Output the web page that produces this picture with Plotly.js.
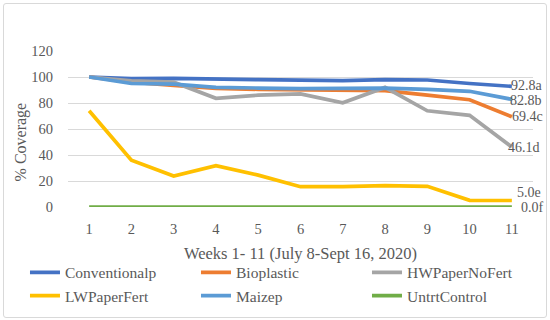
<!DOCTYPE html>
<html><head><meta charset="utf-8">
<script src="https://cdn.plot.ly/plotly-3.0.1.min.js"></script>
<style>
html,body{margin:0;padding:0;background:#fff;}
#wrap{position:relative;width:550px;height:320px;}
#chart{width:550px;height:320px;}
#chart svg text{font-family:'Liberation Serif', serif !important;}
#frame{position:absolute;left:3px;top:3px;width:542px;height:313px;border:1px solid #d9d9d9;border-radius:3px;pointer-events:none;}
</style>
</head><body>
<div id="wrap"><div id="chart"></div><div id="frame"></div></div>
<script>
var weeks = [1,2,3,4,5,6,7,8,9,10,11];
var seriesNames = ["Conventionalp","Bioplastic","HWPaperNoFert","LWPaperFert","Maizep","UntrtControl"];
var conventionalp = [100, 98.7, 99, 98.2, 98, 97.6, 97.2, 98, 97.7, 95, 92.8];
var bioplastic    = [100, 96, 93.5, 91.3, 90.5, 90, 89.7, 89.5, 86, 82.5, 69.4];
var hwPaperNoFert = [100, 97, 96, 83.6, 86, 87, 80.2, 92, 74, 70.5, 46.1];
var lwPaperFert   = [74, 36, 23.8, 31.8, 24.5, 15.6, 15.6, 16.4, 15.9, 5.1, 5.0];
var maizep        = [100, 95, 94.5, 92, 91.5, 91, 91.3, 91.5, 90.5, 89, 82.8];
var untrtControl  = [0, 0, 0, 0, 0, 0, 0, 0, 0, 0, 0];
var endLabels = ["92.8a","82.8b","69.4c","46.1d","5.0e","0.0f"];
var yTicks = [0,20,40,60,80,100,120];

var allValues = [conventionalp, bioplastic, hwPaperNoFert, lwPaperFert, maizep, untrtControl];
var colors = ["#4472C4","#ED7D31","#A5A5A5","#FFC000","#5B9BD5","#70AD47"];
var labelOrder = [0,4,1,2,3,5];
var labelXShift = [-3,-4,-2,-6,3,7];
var labelYShift = [1,-1,0,0,8,0];

var font = "Liberation Serif";
var txt = "#595959";

var traces = allValues.map(function(v,i){
  return {x: weeks, y: v, name: seriesNames[i], type:"scatter", mode:"lines",
    line:{color:colors[i], width:3.7}, cliponaxis:false};
});

var annotations = labelOrder.map(function(si, k){
  var v = allValues[si];
  return {x: weeks[weeks.length-1], y: v[v.length-1], xref:"x", yref:"y",
    text: endLabels[k], showarrow:false, xanchor:"left", yanchor:"middle",
    xshift: labelXShift[k], yshift: labelYShift[k], font:{family:font, size:14, color:txt}};
});
annotations.push({xref:"paper", yref:"paper", x:-0.099, y:0.42, xanchor:"center", yanchor:"middle",
  text:"% Coverage", textangle:-90, showarrow:false, font:{family:font, size:16, color:txt}});

var layout = {
  width:550, height:320,
  margin:{l:68, r:17, t:51, b:113, autoexpand:false},
  paper_bgcolor:"rgba(0,0,0,0)", plot_bgcolor:"#fff",
  font:{family:font, color:txt, size:14.5},
  showlegend:true,
  xaxis:{range:[0.5,11.5], tickvals:weeks, showgrid:false, zeroline:false, showline:false,
    ticks:"", tickfont:{family:font, size:14.5, color:txt}, ticklabelstandoff:11,
    title:{text:"Weeks 1- 11 (July 8-Sept 16, 2020)", font:{family:font, size:16.5, color:txt}, standoff:11}},
  yaxis:{range:[0,120], tickvals:yTicks, showgrid:true, gridcolor:"#d9d9d9", gridwidth:1,
    zeroline:false, showline:false, ticks:"", ticklabelstandoff:14,
    tickfont:{family:font, size:14.5, color:txt}},
  legend:{orientation:"h", x:-0.0925, xanchor:"left", y:-0.313, yanchor:"top",
    entrywidth:126, entrywidthmode:"pixels", font:{family:font, size:15.5, color:txt},
    bgcolor:"rgba(0,0,0,0)", traceorder:"normal"},
  annotations: annotations
};
Plotly.newPlot("chart", traces, layout, {displayModeBar:false, staticPlot:true});
</script>
</body></html>
